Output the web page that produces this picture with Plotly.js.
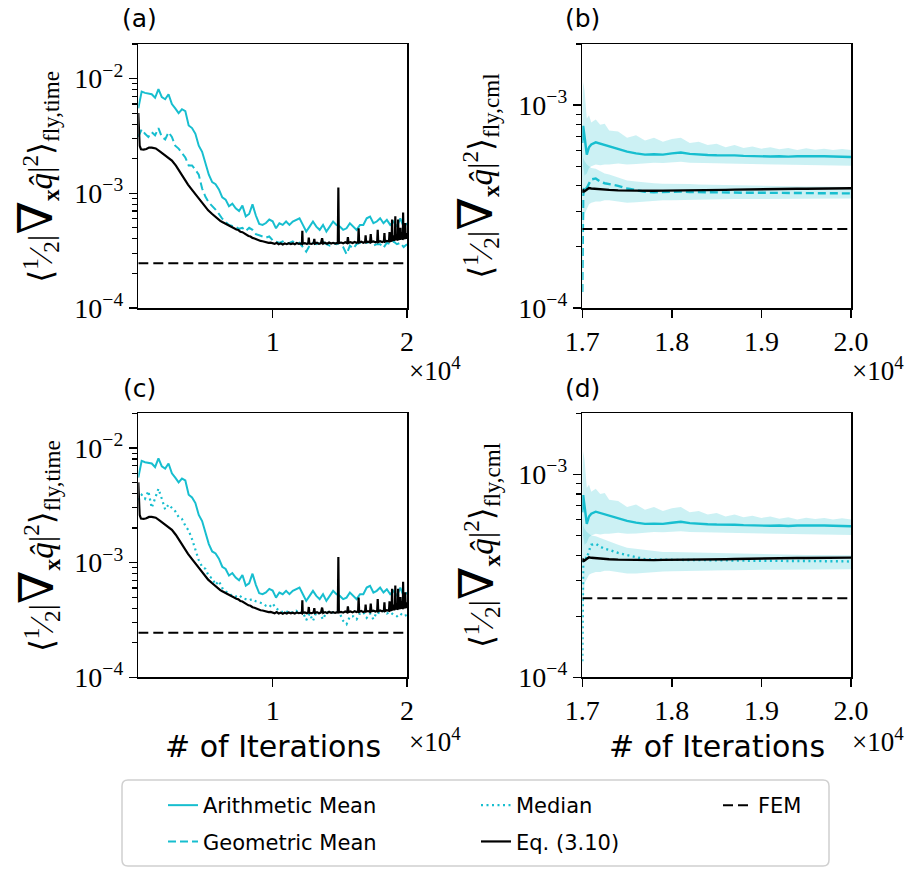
<!DOCTYPE html>
<html>
<head>
<meta charset="utf-8">
<script src="https://cdn.plot.ly/plotly-3.0.1.min.js"></script>
<style>html,body{margin:0;padding:0;background:#fff;}#chart{width:907px;height:871px;}</style>
</head>
<body>
<div id="chart"></div>
<script>
// ---------------- DATA ----------------
// iteration grid for instantaneous (time) averages, panels (a),(c)
const iterGrid = [
  0,250,500,750,1000,1250,1500,1750,2000,2250,
  2500,2750,3000,3250,3500,3750,4000,4250,4500,4750,
  5000,5250,5500,5750,6000,6250,6500,6750,7000,7250,
  7500,7750,8000,8250,8500,8750,9000,9250,9500,9750,
  10000,10250,10500,10750,11000,11250,11500,11750,12000,12250,
  12500,12750,13000,13250,13500,13750,14000,14250,14500,14750,
  15000,15250,15500,15750,16000,16250,16500,16750,17000,17250,
  17500,17750,18000,18250,18500,18750,19000,19250,19500,19750,
  20000];
const arithTime = [
  5.5e-3,7.7e-3,7.5e-3,7.4e-3,7.3e-3,6.8e-3,8.1e-3,6.9e-3,6.6e-3,7.3e-3,
  6.0e-3,5.5e-3,5.0e-3,5.4e-3,5.2e-3,3.9e-3,3.7e-3,3.3e-3,2.6e-3,2.3e-3,
  1.8e-3,1.45e-3,1.25e-3,1.2e-3,1.08e-3,9.2e-4,8.8e-4,7.7e-4,8.1e-4,7.4e-4,
  7.0e-4,7.8e-4,6.3e-4,6.6e-4,8.0e-4,6.4e-4,5.4e-4,5.3e-4,5.5e-4,5.9e-4,
  5.7e-4,4.95e-4,5.48e-4,5.3e-4,5.67e-4,5.3e-4,5.67e-4,5.86e-4,6.05e-4,5.3e-4,
  4.64e-4,5.12e-4,5.67e-4,5.12e-4,4.8e-4,5.3e-4,4.64e-4,5.12e-4,5.67e-4,5.3e-4,
  5.12e-4,4.8e-4,4.95e-4,5.48e-4,5.12e-4,4.8e-4,5.3e-4,5.3e-4,6.05e-4,6.27e-4,
  5.48e-4,5.67e-4,6.05e-4,5.48e-4,5.86e-4,5.3e-4,5.67e-4,5.12e-4,6.05e-4,5.12e-4,
  5.48e-4];
const geoTime = [
  3.1e-3,3.6e-3,3.3e-3,3.1e-3,3.4e-3,3.2e-3,3.7e-3,3.1e-3,2.95e-3,3.4e-3,
  3.1e-3,2.6e-3,2.45e-3,2.25e-3,2.05e-3,1.75e-3,1.75e-3,1.6e-3,1.45e-3,1.1e-3,
  9.3e-4,8.3e-4,7.8e-4,7.2e-4,6.6e-4,6.0e-4,5.6e-4,5.3e-4,5.2e-4,5.1e-4,
  4.9e-4,5.0e-4,4.7e-4,5.0e-4,4.8e-4,4.4e-4,4.3e-4,4.2e-4,4.1e-4,4.2e-4,
  3.9e-4,3.8e-4,3.7e-4,3.8e-4,3.6e-4,3.7e-4,3.8e-4,3.6e-4,3.7e-4,3.4e-4,
  3.1e-4,3.5e-4,3.7e-4,3.6e-4,3.7e-4,3.8e-4,3.6e-4,3.5e-4,3.7e-4,3.6e-4,
  3.7e-4,3.4e-4,2.95e-4,3.5e-4,3.3e-4,3.6e-4,3.7e-4,3.8e-4,3.7e-4,3.8e-4,
  3.5e-4,3.6e-4,3.6e-4,3.35e-4,3.7e-4,3.6e-4,3.8e-4,3.6e-4,3.7e-4,3.4e-4,
  3.6e-4];
const medianTime = [
  3.5e-3,3.9e-3,3.6e-3,4.2e-3,3.0e-3,3.7e-3,4.4e-3,3.6e-3,2.9e-3,3.2e-3,
  3.0e-3,2.8e-3,2.5e-3,2.4e-3,2.1e-3,1.9e-3,1.6e-3,1.3e-3,1.05e-3,9.2e-4,
  8.8e-4,7.6e-4,7.3e-4,6.4e-4,6.9e-4,6.0e-4,5.6e-4,5.4e-4,5.1e-4,5.05e-4,
  5.2e-4,4.9e-4,4.8e-4,4.7e-4,4.8e-4,4.6e-4,4.5e-4,4.4e-4,4.2e-4,4.1e-4,
  4.4e-4,4.0e-4,3.8e-4,3.7e-4,3.8e-4,3.6e-4,3.7e-4,3.8e-4,3.6e-4,3.7e-4,
  3.15e-4,3.6e-4,3.1e-4,3.7e-4,3.6e-4,3.2e-4,3.7e-4,3.6e-4,3.7e-4,3.8e-4,
  3.6e-4,3.1e-4,2.9e-4,3.4e-4,3.4e-4,3.2e-4,3.6e-4,3.7e-4,3.3e-4,3.6e-4,
  3.2e-4,3.7e-4,3.6e-4,3.8e-4,3.6e-4,3.7e-4,3.5e-4,3.4e-4,3.6e-4,3.4e-4,
  3.5e-4];
// Eq. (3.10) time estimate (non-uniform sampling to keep narrow spikes)
const eqTimeIter = [
  0,100,200,400,600,800,1000,1300,1600,1900,
  2200,2500,2800,3100,3400,3700,4000,4300,4600,4900,
  5200,5500,5800,6100,6250,6400,6550,6700,6850,7000,
  7150,7300,7450,7600,7750,7900,8050,8200,8350,8500,
  8650,8800,8950,9100,9250,9400,9550,9700,9850,10000,
  10150,10300,10450,10600,10750,10900,11050,11200,11350,11500,
  11650,11800,11950,12100,12180,12210,12240,12400,12550,12650,
  12690,12730,12900,13050,13100,13150,13300,13450,13600,13680,
  13760,13900,14050,14200,14350,14500,14650,14850,14890,14930,
  15100,15250,15400,15550,15600,15650,15800,15950,16100,16250,
  16360,16400,16440,16600,16750,16880,16920,16960,17100,17250,
  17300,17350,17500,17650,17780,17820,17860,18000,18150,18280,
  18320,18360,18500,18660,18700,18740,18860,18890,18920,19000,
  19050,19100,19130,19160,19220,19270,19310,19340,19370,19430,
  19470,19510,19550,19620,19660,19690,19710,19740,19800,19840,
  19870,19900,19950,20000];
const eqTime = [
  5.0e-3,2.6e-3,2.42e-3,2.40e-3,2.43e-3,2.50e-3,2.50e-3,2.46e-3,2.32e-3,2.17e-3,
  2.06e-3,1.93e-3,1.74e-3,1.53e-3,1.36e-3,1.19e-3,1.07e-3,9.7e-4,8.8e-4,7.95e-4,
  7.1e-4,6.6e-4,6.1e-4,5.75e-4,5.62e-4,5.5e-4,5.38e-4,5.22e-4,5.14e-4,5.0e-4,
  4.96e-4,4.83e-4,4.78e-4,4.62e-4,4.58e-4,4.44e-4,4.38e-4,4.24e-4,4.2e-4,4.08e-4,
  4.04e-4,3.96e-4,3.93e-4,3.84e-4,3.82e-4,3.76e-4,3.75e-4,3.70e-4,3.71e-4,3.68e-4,
  3.62e-4,3.70e-4,3.60e-4,3.66e-4,3.58e-4,3.65e-4,3.60e-4,3.67e-4,3.61e-4,3.66e-4,
  3.59e-4,3.68e-4,3.62e-4,3.66e-4,3.62e-4,4.7e-4,3.64e-4,3.68e-4,3.62e-4,3.70e-4,
  4.1e-4,3.65e-4,3.62e-4,3.68e-4,4.0e-4,3.64e-4,3.70e-4,3.62e-4,3.68e-4,4.05e-4,
  3.64e-4,3.70e-4,3.63e-4,3.72e-4,3.65e-4,3.70e-4,3.64e-4,3.70e-4,1.12e-3,3.68e-4,
  3.72e-4,3.66e-4,3.74e-4,3.68e-4,4.15e-4,3.70e-4,3.75e-4,3.68e-4,3.76e-4,3.70e-4,
  3.74e-4,4.95e-4,3.72e-4,3.78e-4,3.70e-4,3.76e-4,4.3e-4,3.74e-4,3.78e-4,3.72e-4,
  4.4e-4,3.76e-4,3.80e-4,3.74e-4,3.80e-4,4.8e-4,3.76e-4,3.82e-4,3.76e-4,3.82e-4,
  4.5e-4,3.78e-4,3.84e-4,3.80e-4,4.6e-4,3.82e-4,3.86e-4,5.9e-4,3.84e-4,4.3e-4,
  3.86e-4,3.95e-4,6.3e-4,3.9e-4,4.4e-4,3.88e-4,3.95e-4,5.9e-4,3.9e-4,4.5e-4,
  3.92e-4,5.0e-4,3.94e-4,4.6e-4,3.95e-4,4.0e-4,6.8e-4,3.96e-4,4.6e-4,3.98e-4,
  5.5e-4,4.0e-4,4.5e-4,4.0e-4];

// cumulative averages, panels (b),(d)
const cmlIter = [
  17000,17010,17025,17050,17075,17100,17150,17200,17250,17300,
  17400,17500,17600,17700,17800,17900,18000,18100,18200,18300,
  18400,18500,18600,18700,18800,18900,19000,19100,19200,19300,
  19400,19500,19600,19700,19800,19900,20000];
const arithCml = [
  6.5e-4,7.9e-4,7.0e-4,5.7e-4,6.2e-4,6.4e-4,6.55e-4,6.45e-4,6.35e-4,6.25e-4,
  6.05e-4,5.9e-4,5.78e-4,5.7e-4,5.72e-4,5.7e-4,5.78e-4,5.84e-4,5.75e-4,5.7e-4,
  5.68e-4,5.66e-4,5.67e-4,5.65e-4,5.62e-4,5.6e-4,5.6e-4,5.58e-4,5.6e-4,5.57e-4,
  5.6e-4,5.62e-4,5.6e-4,5.6e-4,5.58e-4,5.56e-4,5.55e-4];
const arithCmlHigh = [
  1.0e-3,1.3e-3,1.18e-3,8.6e-4,8.9e-4,8.2e-4,8.5e-4,8.0e-4,8.1e-4,7.5e-4,
  7.4e-4,6.9e-4,7.1e-4,6.7e-4,6.9e-4,6.6e-4,6.8e-4,6.9e-4,6.5e-4,6.6e-4,
  6.35e-4,6.45e-4,6.2e-4,6.35e-4,6.15e-4,6.25e-4,6.1e-4,6.2e-4,6.05e-4,6.15e-4,
  6.0e-4,6.12e-4,6.02e-4,6.1e-4,6.0e-4,6.08e-4,6.0e-4];
const arithCmlLow = [
  3.0e-4,5.0e-4,4.5e-4,4.6e-4,4.9e-4,5.0e-4,5.1e-4,5.05e-4,5.1e-4,5.1e-4,
  5.15e-4,5.1e-4,5.12e-4,5.15e-4,5.2e-4,5.18e-4,5.2e-4,5.25e-4,5.2e-4,5.2e-4,
  5.18e-4,5.17e-4,5.15e-4,5.14e-4,5.12e-4,5.1e-4,5.1e-4,5.08e-4,5.08e-4,5.06e-4,
  5.06e-4,5.07e-4,5.05e-4,5.05e-4,5.04e-4,5.03e-4,5.02e-4];
const geoCml = [
  1.2e-4,3.6e-4,4.0e-4,3.9e-4,4.1e-4,4.3e-4,4.35e-4,4.2e-4,4.12e-4,4.08e-4,
  4.0e-4,3.88e-4,3.8e-4,3.74e-4,3.72e-4,3.74e-4,3.75e-4,3.75e-4,3.73e-4,3.72e-4,
  3.72e-4,3.71e-4,3.71e-4,3.70e-4,3.70e-4,3.70e-4,3.70e-4,3.69e-4,3.70e-4,3.69e-4,
  3.69e-4,3.69e-4,3.68e-4,3.68e-4,3.68e-4,3.68e-4,3.67e-4];
const geoCmlHigh = [
  6.5e-4,5.5e-4,5.3e-4,5.1e-4,5.0e-4,4.9e-4,4.85e-4,4.7e-4,4.6e-4,4.55e-4,
  4.4e-4,4.25e-4,4.2e-4,4.15e-4,4.12e-4,4.1e-4,4.1e-4,4.1e-4,4.08e-4,4.06e-4,
  4.05e-4,4.04e-4,4.03e-4,4.02e-4,4.01e-4,4.0e-4,4.0e-4,3.99e-4,3.99e-4,3.98e-4,
  3.98e-4,3.97e-4,3.97e-4,3.96e-4,3.96e-4,3.95e-4,3.95e-4];
const geoCmlLow = [
  1.0e-4,2.2e-4,2.9e-4,3.1e-4,3.25e-4,3.3e-4,3.35e-4,3.35e-4,3.4e-4,3.4e-4,
  3.35e-4,3.3e-4,3.32e-4,3.35e-4,3.38e-4,3.4e-4,3.4e-4,3.41e-4,3.42e-4,3.42e-4,
  3.43e-4,3.43e-4,3.43e-4,3.44e-4,3.44e-4,3.44e-4,3.44e-4,3.45e-4,3.45e-4,3.45e-4,
  3.45e-4,3.45e-4,3.45e-4,3.46e-4,3.46e-4,3.46e-4,3.46e-4];
const medianCml = [
  1.2e-4,3.7e-4,3.9e-4,3.85e-4,4.2e-4,4.5e-4,4.55e-4,4.4e-4,4.3e-4,4.25e-4,
  4.1e-4,4.0e-4,3.9e-4,3.82e-4,3.8e-4,3.8e-4,3.8e-4,3.79e-4,3.79e-4,3.78e-4,
  3.78e-4,3.78e-4,3.77e-4,3.76e-4,3.76e-4,3.75e-4,3.75e-4,3.75e-4,3.74e-4,3.74e-4,
  3.74e-4,3.74e-4,3.73e-4,3.73e-4,3.73e-4,3.73e-4,3.72e-4];
const medianCmlHigh = [
  6.5e-4,5.6e-4,5.4e-4,5.2e-4,5.1e-4,5.0e-4,4.95e-4,4.85e-4,4.75e-4,4.65e-4,
  4.5e-4,4.35e-4,4.3e-4,4.22e-4,4.18e-4,4.15e-4,4.14e-4,4.13e-4,4.12e-4,4.1e-4,
  4.1e-4,4.08e-4,4.07e-4,4.06e-4,4.05e-4,4.04e-4,4.04e-4,4.03e-4,4.03e-4,4.02e-4,
  4.02e-4,4.01e-4,4.01e-4,4.0e-4,4.0e-4,4.0e-4,4.0e-4];
const medianCmlLow = [
  1.0e-4,2.2e-4,2.9e-4,3.05e-4,3.2e-4,3.25e-4,3.3e-4,3.3e-4,3.35e-4,3.35e-4,
  3.3e-4,3.25e-4,3.25e-4,3.28e-4,3.3e-4,3.32e-4,3.33e-4,3.34e-4,3.35e-4,3.35e-4,
  3.36e-4,3.36e-4,3.37e-4,3.37e-4,3.38e-4,3.38e-4,3.38e-4,3.39e-4,3.39e-4,3.39e-4,
  3.4e-4,3.4e-4,3.4e-4,3.4e-4,3.41e-4,3.41e-4,3.41e-4];
const eqCml = [
  3.7e-4,3.8e-4,3.76e-4,3.85e-4,3.9e-4,3.88e-4,3.86e-4,3.84e-4,3.83e-4,3.82e-4,
  3.8e-4,3.79e-4,3.78e-4,3.78e-4,3.78e-4,3.79e-4,3.79e-4,3.8e-4,3.8e-4,3.81e-4,
  3.81e-4,3.82e-4,3.82e-4,3.83e-4,3.84e-4,3.85e-4,3.85e-4,3.86e-4,3.86e-4,3.87e-4,
  3.87e-4,3.87e-4,3.88e-4,3.88e-4,3.88e-4,3.89e-4,3.89e-4];
const femValue = 2.45e-4;
const femIterFull = [0, 20000];
const femIterZoom = [17000, 20000];

// tick labels
const yMajorVals = [1e-4, 1e-3, 1e-2];
const yMajorText = ['10<sup>−4</sup>', '10<sup>−3</sup>', '10<sup>−2</sup>'];
const yMinorVals = [2e-4,3e-4,4e-4,5e-4,6e-4,7e-4,8e-4,9e-4,2e-3,3e-3,4e-3,5e-3,6e-3,7e-3,8e-3,9e-3,2e-2];
const xFullVals = [10000, 20000];
const xFullText = ['1', '2'];
const xZoomVals = [17000, 18000, 19000, 20000];
const xZoomText = ['1.7', '1.8', '1.9', '2.0'];
const seriesNames = ['Arithmetic Mean', 'Geometric Mean', 'Median', 'Eq. (3.10)', 'FEM'];
const panelLabels = ['(a)', '(b)', '(c)', '(d)'];

// ---------------- STYLE ----------------
const W = 907, H = 871;
const fx = p => p / W;
const fy = p => 1 - p / H;
const CYAN = '#17becf';
const BAND = 'rgba(23,190,207,0.22)';
const SERIF = 'Liberation Serif, DejaVu Serif, serif';
const SANS = 'DejaVu Sans, sans-serif';

const colL = [fx(138.3), fx(407)];
const colR = [fx(582.3), fx(851)];
const rowT = [fy(308), fy(44)];
const rowB = [fy(677.3), fy(413.3)];

function xAxis(domain, anchor, range, vals, text) {
  return {domain, anchor, range, tickmode: 'array', tickvals: vals, ticktext: text,
    showline: true, mirror: true, linecolor: 'black', linewidth: 1.5,
    ticks: 'outside', ticklen: 8, tickwidth: 1.4, tickcolor: 'black',
    tickfont: {family: SERIF, size: 28, color: 'black'},
    showgrid: false, zeroline: false, fixedrange: true};
}
function yAxis(domain, anchor, top) {
  return {domain, anchor, type: 'log', range: [-4, Math.log10(top)],
    tickmode: 'array', tickvals: yMajorVals, ticktext: yMajorText,
    showline: true, mirror: true, linecolor: 'black', linewidth: 1.5,
    ticks: 'outside', ticklen: 8, tickwidth: 1.4, tickcolor: 'black',
    tickfont: {family: SERIF, size: 28, color: 'black'},
    minor: {ticks: 'outside', ticklen: 4.5, tickwidth: 1.1, tickcolor: 'black',
      tickmode: 'array', tickvals: yMinorVals, showgrid: false},
    showgrid: false, zeroline: false, fixedrange: true};
}

function line(x, y, xa, ya, color, width, dash, extra) {
  return Object.assign({type: 'scatter', mode: 'lines', x, y, xaxis: xa, yaxis: ya,
    line: {color, width, dash: dash || 'solid'}, showlegend: false, hoverinfo: 'skip'}, extra || {});
}
function band(x, lo, hi, xa, ya) {
  return [
    {type: 'scatter', mode: 'lines', x, y: lo, xaxis: xa, yaxis: ya, line: {width: 0, color: BAND},
     showlegend: false, hoverinfo: 'skip'},
    {type: 'scatter', mode: 'lines', x, y: hi, xaxis: xa, yaxis: ya, line: {width: 0, color: BAND},
     fill: 'tonexty', fillcolor: BAND, showlegend: false, hoverinfo: 'skip'}
  ];
}
const GEO_DASH = '8px,4px';
const MED_DOT = '2px,3.5px';
const FEM_DASH = '10px,5px';

const traces = [
  // (a)
  line(iterGrid, arithTime, 'x', 'y', CYAN, 2, 'solid', {name: seriesNames[0], showlegend: true, legend: 'legend', legendgroup: 'g1', legendrank: 1}),
  line(iterGrid, geoTime, 'x', 'y', CYAN, 2, GEO_DASH, {name: seriesNames[1], showlegend: true, legend: 'legend', legendgroup: 'g2', legendrank: 2}),
  line(eqTimeIter, eqTime, 'x', 'y', 'black', 2.2, 'solid', {name: seriesNames[3], showlegend: true, legend: 'legend2', legendgroup: 'g4', legendrank: 4}),
  line(femIterFull, [femValue, femValue], 'x', 'y', 'black', 2, FEM_DASH, {name: seriesNames[4], showlegend: true, legend: 'legend3', legendgroup: 'g5', legendrank: 5}),
  // (b)
  ...band(cmlIter, arithCmlLow, arithCmlHigh, 'x2', 'y2'),
  ...band(cmlIter, geoCmlLow, geoCmlHigh, 'x2', 'y2'),
  line(cmlIter, arithCml, 'x2', 'y2', CYAN, 2.4),
  line(cmlIter, geoCml, 'x2', 'y2', CYAN, 2.4, GEO_DASH),
  line(cmlIter, eqCml, 'x2', 'y2', 'black', 2.4),
  line(femIterZoom, [femValue, femValue], 'x2', 'y2', 'black', 2, FEM_DASH),
  // (c)
  line(iterGrid, arithTime, 'x3', 'y3', CYAN, 2),
  line(iterGrid, medianTime, 'x3', 'y3', CYAN, 2.2, MED_DOT, {name: seriesNames[2], showlegend: true, legend: 'legend2', legendgroup: 'g3', legendrank: 3}),
  line(eqTimeIter, eqTime, 'x3', 'y3', 'black', 2.2),
  line(femIterFull, [femValue, femValue], 'x3', 'y3', 'black', 2, FEM_DASH),
  // (d)
  ...band(cmlIter, arithCmlLow, arithCmlHigh, 'x4', 'y4'),
  ...band(cmlIter, medianCmlLow, medianCmlHigh, 'x4', 'y4'),
  line(cmlIter, arithCml, 'x4', 'y4', CYAN, 2.4),
  line(cmlIter, medianCml, 'x4', 'y4', CYAN, 2.4, MED_DOT),
  line(cmlIter, eqCml, 'x4', 'y4', 'black', 2.4),
  line(femIterZoom, [femValue, femValue], 'x4', 'y4', 'black', 2, FEM_DASH)
];

const yTitle = sub => '⟨<sup>1</sup>⁄<sub>2</sub>|<span style="font-size:48px">∇</span><sub><b>x</b></sub><i>q̂</i>|<sup>2</sup>⟩<sub>fly,' + sub + '</sub>';

const annotations = [];
const labelPos = [[139, 18], [582, 18], [139, 388], [582, 388]];
panelLabels.forEach((t, i) => annotations.push({text: t, xref: 'paper', yref: 'paper', x: fx(labelPos[i][0]), y: fy(labelPos[i][1]),
  xanchor: 'center', yanchor: 'middle', showarrow: false, font: {family: SANS, size: 25, color: 'black'}}));
[[37, 176.7, 'time'], [477, 176.7, 'cml'], [37, 546, 'time'], [477, 546, 'cml']].forEach(p => annotations.push({
  text: yTitle(p[2]), xref: 'paper', yref: 'paper', x: fx(p[0]), y: fy(p[1]), xanchor: 'center', yanchor: 'middle',
  textangle: -90, showarrow: false, font: {family: SERIF, size: 33, color: 'black'}}));
[[407, 369], [850, 369], [407, 740], [850, 740]].forEach(p => annotations.push({
  text: '×10<sup>4</sup>', xref: 'paper', yref: 'paper', x: fx(p[0]), y: fy(p[1]), xanchor: 'left', yanchor: 'middle',
  showarrow: false, font: {family: SERIF, size: 27, color: 'black'}}));
[[273, 746], [717, 746]].forEach(p => annotations.push({
  text: '# of Iterations', xref: 'paper', yref: 'paper', x: fx(p[0]), y: fy(p[1]), xanchor: 'center', yanchor: 'middle',
  showarrow: false, font: {family: SANS, size: 30, color: 'black'}}));

// rounded legend frame
function roundRect(x0, y0, x1, y1, r) {
  const rx = r / W, ry = r / H;
  const a = fx(x0), b = fx(x1), t = fy(y0), u = fy(y1);
  return `M${a + rx},${t} L${b - rx},${t} Q${b},${t} ${b},${t - ry} L${b},${u + ry} Q${b},${u} ${b - rx},${u} ` +
         `L${a + rx},${u} Q${a},${u} ${a},${u + ry} L${a},${t - ry} Q${a},${t} ${a + rx},${t} Z`;
}
const shapes = [{type: 'path', xref: 'paper', yref: 'paper', path: roundRect(122, 780, 829, 866, 6),
  line: {color: '#d0d0d0', width: 1.5}, fillcolor: 'rgba(255,255,255,0.8)', layer: 'below'}];

const legendBase = {orientation: 'v', yanchor: 'top', xanchor: 'left', bgcolor: 'rgba(0,0,0,0)', borderwidth: 0,
  font: {family: SANS, size: 21, color: 'black'}, tracegroupgap: 6, traceorder: 'grouped', itemclick: false, itemdoubleclick: false};

const layout = {
  width: W, height: H, margin: {l: 0, r: 0, t: 0, b: 0, pad: 0},
  paper_bgcolor: 'white', plot_bgcolor: 'white', hovermode: false,
  xaxis: xAxis(colL, 'y', [0, 20000], xFullVals, xFullText),
  yaxis: yAxis(rowT, 'x', 2e-2),
  xaxis2: xAxis(colR, 'y2', [17000, 20000], xZoomVals, xZoomText),
  yaxis2: yAxis(rowT, 'x2', 2e-3),
  xaxis3: xAxis(colL, 'y3', [0, 20000], xFullVals, xFullText),
  yaxis3: yAxis(rowB, 'x3', 2e-2),
  xaxis4: xAxis(colR, 'y4', [17000, 20000], xZoomVals, xZoomText),
  yaxis4: yAxis(rowB, 'x4', 2e-3),
  legend: Object.assign({}, legendBase, {x: fx(163), y: fy(785)}),
  legend2: Object.assign({}, legendBase, {x: fx(476), y: fy(785)}),
  legend3: Object.assign({}, legendBase, {x: fx(718), y: fy(785)}),
  annotations, shapes, showlegend: true
};

Plotly.newPlot('chart', traces, layout, {staticPlot: true, displayModeBar: false});
</script>
</body>
</html>
